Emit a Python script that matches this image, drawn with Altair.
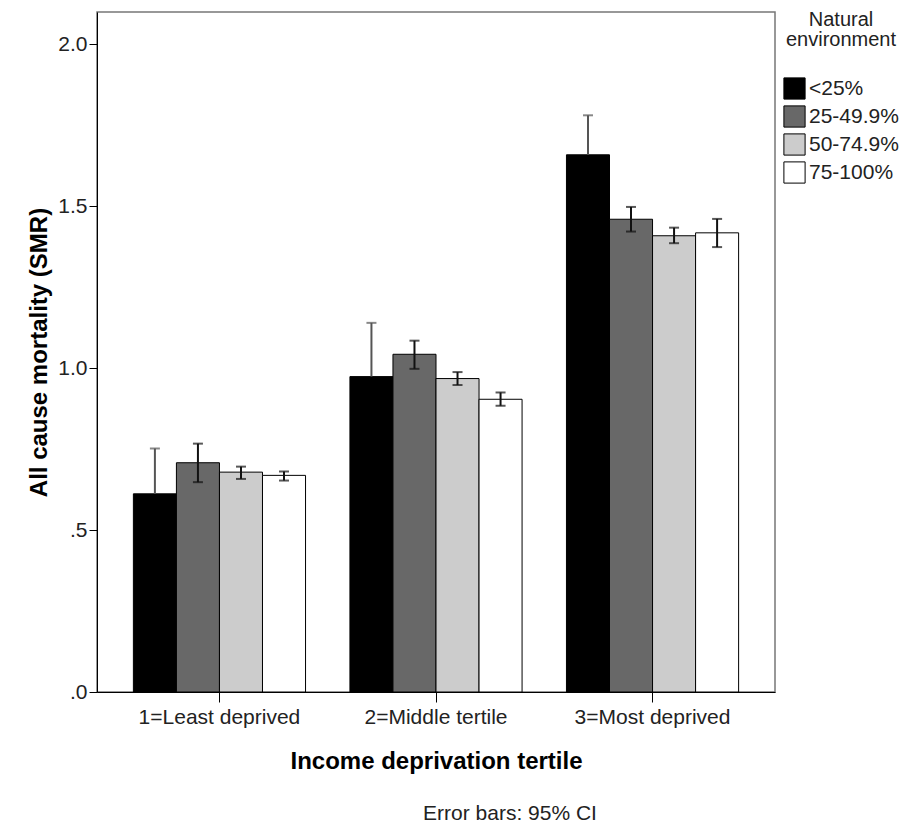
import altair as alt
import pandas as pd

groups = ["1=Least deprived", "2=Middle tertile", "3=Most deprived"]
series = ["<25%", "25-49.9%", "50-74.9%", "75-100%"]
colors = ["#000000", "#686868", "#cccccc", "#ffffff"]
err_colors = ["#555555", "#111111", "#111111", "#111111"]

smr = [
    [0.612, 0.708, 0.679, 0.669],
    [0.974, 1.043, 0.968, 0.904],
    [1.659, 1.460, 1.409, 1.418],
]
ci_hi = [
    [0.752, 0.767, 0.696, 0.681],
    [1.140, 1.085, 0.988, 0.925],
    [1.781, 1.498, 1.434, 1.461],
]
ci_lo = [
    [0.472, 0.648, 0.658, 0.653],
    [0.808, 0.998, 0.948, 0.884],
    [1.537, 1.422, 1.386, 1.374],
]

rows = []
for gi, g in enumerate(groups):
    for si, s in enumerate(series):
        rows.append({
            "group": g, "series": s, "smr": smr[gi][si],
            "hi": ci_hi[gi][si], "lo": ci_lo[gi][si],
            "ecol": err_colors[si], "under": si == 0,
        })
df = pd.DataFrame(rows)

FONT = "Liberation Sans"

x_enc = alt.X("group:N", sort=groups, title="Income deprivation tertile",
              scale=alt.Scale(paddingInner=0.205, paddingOuter=0.168),
              axis=alt.Axis(labelAngle=0, labelFontSize=21, labelColor="#222",
                            labelFont=FONT, tickSize=10, tickColor="#000",
                            domainColor="#000", labelPadding=4,
                            titleFontSize=24, titleFontWeight="bold",
                            titleFont=FONT, titleColor="#000", titlePadding=22))
xoff = alt.XOffset("series:N", sort=series, scale=alt.Scale(paddingInner=0, paddingOuter=0))
y_scale = alt.Scale(domain=[0, 2.1], nice=False)

bars = alt.Chart(df).mark_bar(stroke="#000", strokeWidth=1).encode(
    x=x_enc,
    xOffset=xoff,
    y=alt.Y("smr:Q", scale=y_scale, title="All cause mortality (SMR)",
            axis=alt.Axis(values=[0, 0.5, 1.0, 1.5, 2.0], grid=False,
                          labelExpr="datum.value < 1 ? substring(format(datum.value, '.1f'), 1) : format(datum.value, '.1f')",
                          labelFontSize=21, labelColor="#222", labelFont=FONT,
                          tickSize=8, tickColor="#000", domainColor="#000",
                          labelPadding=2,
                          titleFontSize=24, titleFontWeight="bold", titleFont=FONT,
                          titleColor="#000", titlePadding=6)),
    fill=alt.Fill("series:N", sort=series,
                  scale=alt.Scale(domain=series, range=colors),
                  legend=alt.Legend(title=["Natural", "environment"],
                                    orient="none", legendX=686, legendY=-2,
                                    symbolType="square", symbolSize=450,
                                    symbolStrokeColor="#000", symbolStrokeWidth=1,
                                    labelFontSize=21, labelFont=FONT, labelColor="#222",
                                    titleFontSize=20, titleFont=FONT, titleFontWeight="normal",
                                    titleColor="#222", titleAlign="center", titleAnchor="middle",
                                    titleLineHeight=20,
                                    titlePadding=27, rowPadding=1, labelOffset=3)),
)

# the lower half of the error bar on the black bars is hidden behind the bar
err_base = alt.Chart(df).transform_calculate(
    start="datum.under ? datum.smr : datum.lo"
)

rule = err_base.mark_rule(strokeWidth=2).encode(
    x=alt.X("group:N", sort=groups),
    xOffset=xoff,
    y=alt.Y("start:Q", scale=y_scale),
    y2="hi:Q",
    color=alt.Color("ecol:N", scale=None),
)
cap_hi = err_base.mark_tick(orient="horizontal", size=10, thickness=2).encode(
    x=alt.X("group:N", sort=groups),
    xOffset=xoff,
    y=alt.Y("hi:Q", scale=y_scale),
    color=alt.Color("ecol:N", scale=None),
)
cap_lo = err_base.transform_filter("!datum.under").mark_tick(
    orient="horizontal", size=10, thickness=2).encode(
    x=alt.X("group:N", sort=groups),
    xOffset=xoff,
    y=alt.Y("lo:Q", scale=y_scale),
    color=alt.Color("ecol:N", scale=None),
)

chart = alt.layer(bars, rule, cap_lo, cap_hi).properties(
    width=678, height=680,
    padding={"left": 19, "top": 2, "right": 2, "bottom": 2},
    title=alt.TitleParams("Error bars: 95% CI", orient="bottom", anchor="middle",
                          fontSize=21, fontWeight="normal", font=FONT,
                          color="#222", offset=30, dx=74),
).configure_view(stroke="#777", strokeWidth=1.5)

chart.save("out.html", embed_options={"renderer": "svg", "actions": False})
